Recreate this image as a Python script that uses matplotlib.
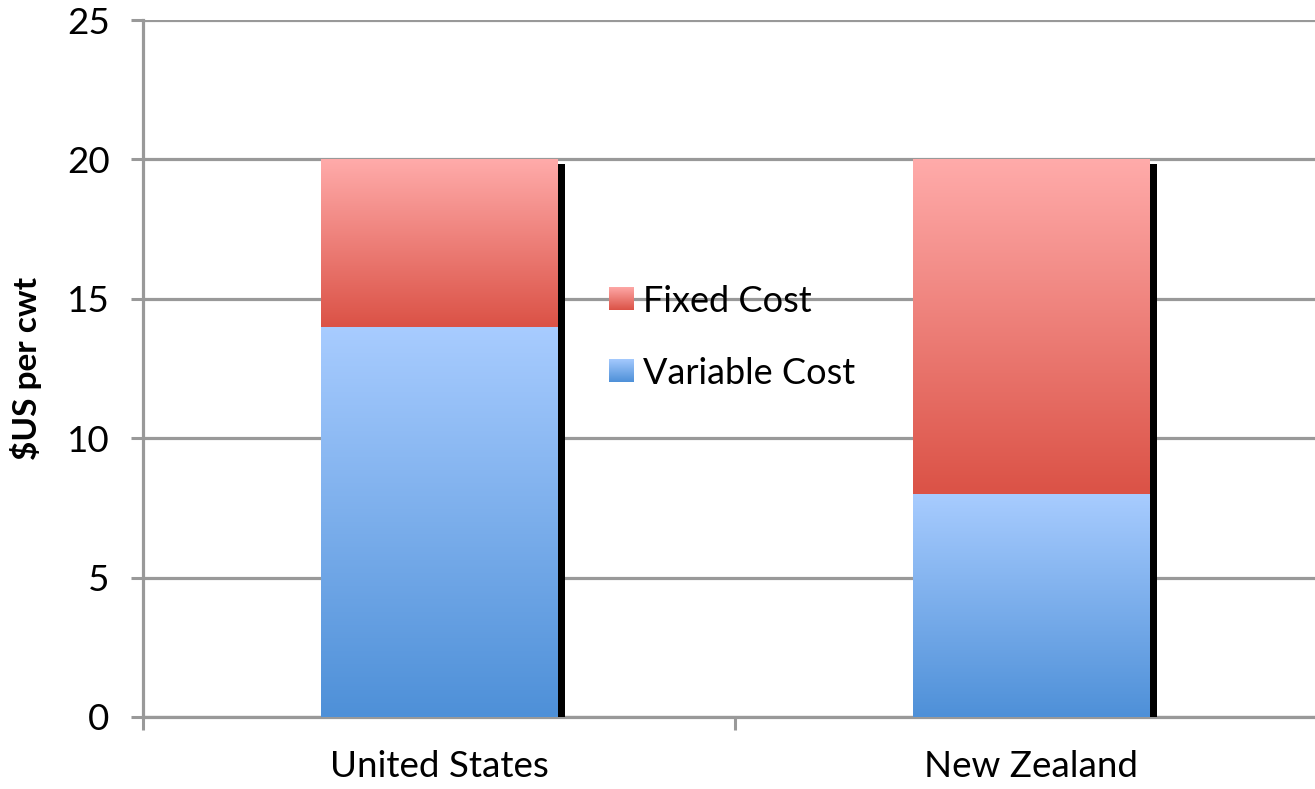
import numpy as np
import matplotlib.pyplot as plt
import matplotlib.patheffects as pe
from matplotlib.colors import LinearSegmentedColormap

countries = ['United States', 'New Zealand']
variable_cost = [14, 8]
fixed_cost = [6, 12]

red_cmap = LinearSegmentedColormap.from_list('red', ['#DB5246', '#FFABAA'])
blue_cmap = LinearSegmentedColormap.from_list('blue', ['#4E90D8', '#A8CCFF'])

plt.rcParams['font.family'] = ['Lato', 'DejaVu Sans']
grey = '#999999'

fig = plt.figure(figsize=(13.15, 7.89), dpi=100)
ax = fig.add_axes([143/1315, 1 - 717/789, 1184/1315, 697/789])

x = np.arange(len(countries))
shadow = [pe.SimplePatchShadow(offset=(5.5, -3.5), shadow_rgbFace='black', alpha=1.0), pe.Normal()]
b1 = ax.bar(x, variable_cost, width=0.4, color='#8BB6F0', zorder=3, path_effects=shadow)
b2 = ax.bar(x, fixed_cost, bottom=variable_cost, width=0.4, color='#EE8A82', zorder=3, path_effects=shadow)

grad = np.linspace(0, 1, 256).reshape(-1, 1)
for bars, cmap in [(b1, blue_cmap), (b2, red_cmap)]:
    for p in bars:
        x0, y0 = p.get_x(), p.get_y()
        im = ax.imshow(grad, cmap=cmap, origin='lower', aspect='auto', zorder=4,
                       extent=[x0, x0 + p.get_width(), y0, y0 + p.get_height()])
        im.set_clip_path(p)

ax.set_xlim(-0.5, 1.5)
ax.set_ylim(0, 25)
ax.set_yticks([0, 5, 10, 15, 20, 25])
ax.yaxis.grid(True, color=grey, lw=2.3, zorder=0)
ax.set_axisbelow(True)
ax.set_xticks([-0.5, 0.5, 1.5])
ax.set_xticklabels([])
ax.set_xticks(x, countries, minor=True)
ax.tick_params(axis='x', which='minor', length=0, pad=24, labelsize=26.5)
ax.tick_params(axis='x', which='major', length=9, width=2.2, color=grey)
ax.tick_params(axis='y', length=9, width=2.2, color=grey, pad=15, labelsize=26.5)
for s in ['top', 'right']:
    ax.spines[s].set_visible(False)
for s in ['left', 'bottom']:
    ax.spines[s].set_color(grey)
    ax.spines[s].set_linewidth(2.3)
ax.set_ylabel('$US per cwt', fontsize=24, fontweight='bold', labelpad=18)

# legend with gradient swatches
legend_items = [('Fixed Cost', red_cmap, 0.584), ('Variable Cost', blue_cmap, 0.4806)]
for label, cmap, yy in legend_items:
    sw = ax.inset_axes([0.3936, yy, 0.0203, 0.033])
    sw.imshow(grad, cmap=cmap, origin='lower', aspect='auto')
    sw.set_axis_off()
    ax.text(0.4223, yy + 0.012, label, transform=ax.transAxes, fontsize=26, va='center', ha='left')

fig.savefig('out.png', dpi=100)
